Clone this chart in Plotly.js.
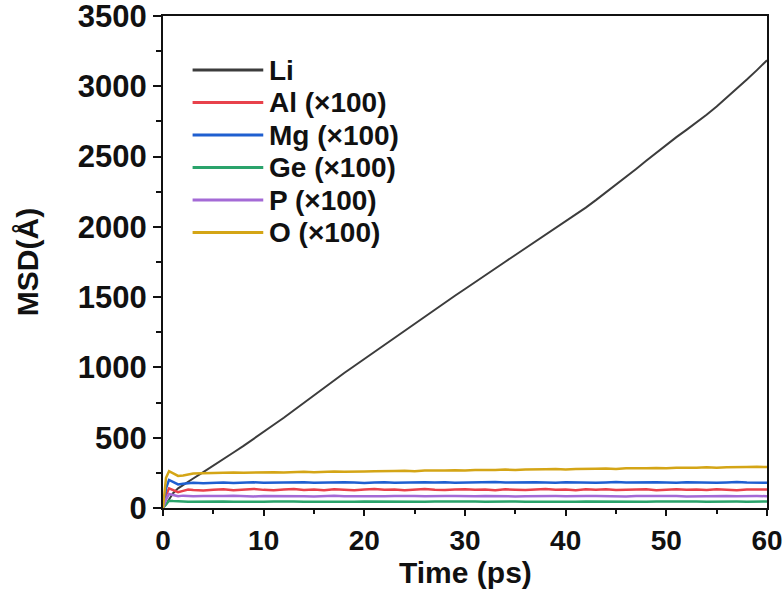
<!DOCTYPE html>
<html>
<head>
<meta charset="utf-8">
<script src="https://cdn.plot.ly/plotly-3.0.1.min.js"></script>
<style>
  html, body { margin: 0; padding: 0; background: #fff; }
  #chart { width: 784px; height: 590px; }
</style>
</head>
<body>
<div id="chart"></div>
<script>
// Simulation time (ps)
const time = [0, 0.3, 0.6, 1, 1.5, 2, 2.5, 3, 4, 5, 6, 7, 8, 9, 10, 11, 12, 13, 14, 15, 16, 17, 18, 19, 20,
  21, 22, 23, 24, 25, 26, 27, 28, 29, 30, 31, 32, 33, 34, 35, 36, 37, 38, 39, 40,
  41, 42, 43, 44, 45, 46, 47, 48, 49, 50, 51, 52, 53, 54, 55, 56, 57, 58, 59, 60];

// Mean square displacement per species (non-Li species scaled by 100)
const msdLi = [0, 25, 60, 105, 140, 165, 188, 210, 255, 300, 348, 395, 442, 490, 540, 592, 642, 695, 750, 802, 858, 908, 960, 1010, 1060,
  1112, 1165, 1215, 1265, 1315, 1365, 1415, 1462, 1510, 1558, 1605, 1652, 1702, 1752, 1800, 1848, 1894, 1940, 1988, 2036,
  2086, 2137, 2190, 2244, 2298, 2354, 2412, 2470, 2528, 2585, 2638, 2690, 2743, 2798, 2856, 2918, 2982, 3048, 3115, 3185];
const msdAl = [0, 90, 140, 128, 112, 122, 132, 128, 124, 130, 134, 127, 131, 136, 129, 126, 132, 135, 128, 131, 126, 133, 130, 127, 132,
  135, 129, 131, 127, 133, 136, 130, 128, 132, 134, 129, 131, 127, 133, 130, 128, 132, 135, 129, 131,
  127, 133, 130, 134, 128, 131, 129, 133, 127, 131, 134, 129, 132, 128, 133, 130, 127, 132, 129, 131];
const msdMg = [0, 140, 200, 185, 168, 172, 178, 180, 176, 179, 181, 177, 180, 183, 179, 181, 178, 182, 184, 180, 182, 179, 183, 181, 178,
  182, 184, 180, 182, 179, 183, 181, 184, 180, 182, 179, 183, 185, 181, 183, 180, 184, 182, 179, 183,
  181, 184, 180, 182, 185, 181, 183, 180, 184, 182, 179, 183, 181, 184, 180, 182, 185, 181, 183, 180];
const msdGe = [0, 30, 52, 50, 46, 47, 45, 46, 44, 46, 47, 45, 44, 46, 45, 47, 44, 46, 45, 44, 46, 47, 45, 44, 46,
  45, 47, 44, 46, 45, 44, 46, 47, 45, 44, 46, 45, 47, 44, 46, 45, 44, 46, 47, 45,
  44, 46, 45, 47, 44, 46, 45, 44, 46, 47, 45, 44, 46, 45, 47, 44, 46, 45, 44, 46];
const msdP = [0, 60, 100, 92, 84, 88, 86, 84, 86, 83, 85, 87, 84, 82, 85, 86, 83, 85, 84, 82, 85, 87, 84, 83, 85,
  82, 84, 86, 83, 85, 84, 82, 85, 86, 83, 84, 86, 83, 85, 82, 84, 86, 83, 85, 84,
  82, 85, 86, 83, 84, 82, 85, 86, 83, 84, 85, 82, 84, 86, 83, 85, 84, 82, 85, 84];
const msdO = [0, 215, 262, 248, 228, 232, 240, 246, 248, 250, 249, 252, 250, 253, 252, 255, 253, 256, 258, 255, 258, 260, 257, 261, 260,
  262, 260, 263, 265, 262, 266, 264, 267, 269, 266, 270, 268, 271, 273, 270, 274, 272, 275, 277, 274,
  278, 276, 279, 281, 278, 282, 280, 283, 285, 282, 286, 284, 287, 289, 286, 290, 288, 291, 293, 291];

const seriesNames = ['Li', 'Al (×100)', 'Mg (×100)', 'Ge (×100)', 'P (×100)', 'O (×100)'];
const seriesValues = [msdLi, msdAl, msdMg, msdGe, msdP, msdO];
const seriesColors = ['#3c3c3c', '#e8414b', '#1f5fd0', '#2aa36b', '#a46ad6', '#d4a516'];

const xTicks = [0, 10, 20, 30, 40, 50, 60];
const yTicks = [0, 500, 1000, 1500, 2000, 2500, 3000, 3500];

const FONT = 'Liberation Sans, Arial, Helvetica, sans-serif';

const traces = seriesNames.map((name, i) => ({
  x: time,
  y: seriesValues[i],
  name: name,
  type: 'scatter',
  mode: 'lines',
  line: { color: seriesColors[i], width: i === 0 ? 2 : 2.5 },
  showlegend: false
}));

// Hand-built legend: long line swatches with bold labels
const shapes = [];
const annotations = [];
const legX0 = 0.049, legX1 = 0.166, legTextX = 0.173;
const legY0 = 0.890, legStep = 0.066;
seriesNames.forEach((name, i) => {
  const y = legY0 - i * legStep;
  shapes.push({
    type: 'line', xref: 'paper', yref: 'paper',
    x0: legX0, x1: legX1, y0: y, y1: y,
    line: { color: seriesColors[i], width: 3 }
  });
  annotations.push({
    xref: 'paper', yref: 'paper', x: legTextX, y: y,
    xanchor: 'left', yanchor: 'middle', showarrow: false,
    text: name,
    font: { family: FONT, size: 28, weight: 'bold', color: '#111' }
  });
});

// x-axis title, pinned just under the tick labels
annotations.push({
  xref: 'paper', yref: 'paper', x: 0.5, y: -0.168,
  xanchor: 'center', yanchor: 'bottom', showarrow: false,
  text: 'Time (ps)',
  font: { family: FONT, size: 30, weight: 'bold', color: '#111' }
});

const axisCommon = {
  showgrid: false,
  zeroline: false,
  showline: true,
  linecolor: '#111',
  linewidth: 2,
  mirror: true,
  ticks: 'outside',
  ticklen: 8,
  tickwidth: 2,
  tickcolor: '#111',
  ticklabeloverflow: 'allow',
  tickfont: { family: FONT, size: 31, weight: 'bold', color: '#111' },
  fixedrange: true
};

const layout = {
  width: 784,
  height: 590,
  margin: { l: 163, r: 17, t: 16, b: 82 },
  paper_bgcolor: '#fff',
  plot_bgcolor: '#fff',
  showlegend: false,
  xaxis: Object.assign({}, axisCommon, {
    range: [0, 60],
    tickvals: xTicks,
    ticktext: xTicks.map(String),
    ticklen: 6,
    tickfont: { family: FONT, size: 28, weight: 'bold', color: '#111' },
    minor: { dtick: 5, ticks: 'outside', ticklen: 4, tickwidth: 2, tickcolor: '#111' }
  }),
  yaxis: Object.assign({}, axisCommon, {
    range: [0, 3500],
    tickvals: yTicks,
    ticktext: yTicks.map(String),
    minor: { dtick: 250, ticks: 'outside', ticklen: 5, tickwidth: 2, tickcolor: '#111' },
    title: { text: 'MSD(Å)', standoff: 30, font: { family: FONT, size: 30, weight: 'bold', color: '#111' } }
  }),
  shapes: shapes,
  annotations: annotations
};

Plotly.newPlot('chart', traces, layout, { staticPlot: true, displayModeBar: false });
</script>
</body>
</html>
